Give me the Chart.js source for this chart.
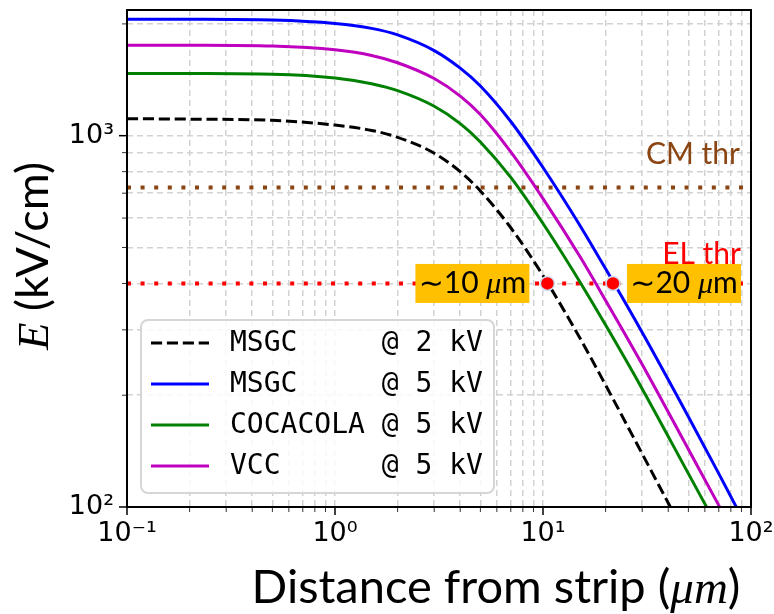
<!DOCTYPE html>
<html lang="en">
<head>
<meta charset="UTF-8" />
<title>E field vs distance from strip</title>
<script src="https://cdn.jsdelivr.net/npm/chart.js"></script>
<style>
  html, body { margin: 0; padding: 0; background: #fff; }
</style>
</head>
<body>
<canvas id="chart" width="774" height="614"></canvas>
<script>
// distance from strip (um)
const distance = [0.1, 0.2, 0.5, 1, 1.5, 2, 3, 4, 5, 7, 10, 15, 20, 30, 50, 70, 100];
// field E (kV/cm)
const msgc2kV     = [1111, 1108, 1100, 1068, 1033, 990, 897, 800, 710, 565, 420, 286, 213, 139, 81, 57, 39];
const msgc5kV     = [2059, 2058, 2048, 2005, 1945, 1868, 1695, 1520, 1361, 1092, 821, 575, 438, 295, 175, 123, 84];
const cocacola5kV = [1471, 1470, 1464, 1430, 1380, 1322, 1200, 1078, 962, 772, 580, 405, 309, 208, 123, 87, 60];
const vcc5kV      = [1753, 1752, 1743, 1703, 1645, 1572, 1425, 1278, 1140, 904, 677, 474, 360, 242, 143, 101, 69.5];
const seriesLabels = ['MSGC     @ 2 kV', 'MSGC     @ 5 kV', 'COCACOLA @ 5 kV', 'VCC      @ 5 kV'];

// thresholds and crossing markers
const cmThreshold = 725;
const elThreshold = 400;
const thresholdLabels = ['CM thr', 'EL thr'];
const markerX = [10.5, 21.7];
const markerLabels = ['∼10 $μ$m', '∼20 $μ$m'];

// axes
const xMajor = [0.1, 1, 10, 100];
const xTickLabels = ['10⁻¹', '10⁰', '10¹', '10²'];
const yMajor = [100, 1000];
const yTickLabels = ['10²', '10³'];
const xTitle = 'Distance from strip ($μm$)';
const yTitle = '$E$ (kV/cm)';

const sansFont = 'Lato, "Open Sans", sans-serif';
const mathFont = '"Liberation Serif", "DejaVu Serif", serif';

function minorTicks(majors) {
  const out = [];
  for (let i = 0; i < majors.length - 1; i++) {
    for (let k = 1; k < 10; k++) out.push(majors[i] * k);
  }
  out.push(majors[majors.length - 1]);
  return out;
}
const xTickValues = minorTicks(xMajor);
const yTickValues = minorTicks(yMajor).concat([2000]);

// text with $...$ parts in italic serif
function runs(text, size) {
  return text.split('$').map((t, i) => ({
    text: t,
    font: (i % 2 ? 'italic ' + size + 'px ' + mathFont
          : size + 'px ' + (t.indexOf('∼') === 0 ? '"DejaVu Sans"' : sansFont))
  })).filter(r => r.text.length);
}
function drawRuns(ctx, list, x, y, align) {
  let total = 0;
  list.forEach(r => {
    // tilde in DejaVu, rest in sans
    if (r.text[0] === '∼') {
      ctx.font = r.font;
      r.tw = ctx.measureText('∼').width;
      ctx.font = r.font.replace('"DejaVu Sans"', sansFont);
      r.w = r.tw + ctx.measureText(r.text.slice(1)).width;
    } else {
      ctx.font = r.font;
      r.w = ctx.measureText(r.text).width;
    }
    total += r.w;
  });
  let cx = align === 'center' ? x - total / 2 : (align === 'right' ? x - total : x);
  ctx.textAlign = 'left';
  list.forEach(r => {
    ctx.font = r.font;
    if (r.text[0] === '∼') {
      ctx.fillText('∼', cx, y);
      ctx.font = r.font.replace('"DejaVu Sans"', sansFont);
      ctx.fillText(r.text.slice(1), cx + r.tw, y);
    } else {
      ctx.fillText(r.text, cx, y);
    }
    cx += r.w;
  });
}

function pts(xs, ys) {
  return xs.map((x, i) => ({ x: x, y: ys[i] }));
}

const curveStyle = {
  borderWidth: 3, pointRadius: 0, fill: false, clip: 0,
  cubicInterpolationMode: 'monotone'
};

// axis frame, tick marks and axis titles
const framePlugin = {
  id: 'frame',
  afterDraw(chart) {
    const ctx = chart.ctx;
    const a = chart.chartArea;
    const xs = chart.scales.x, ys = chart.scales.y;
    ctx.save();
    xTickValues.forEach(v => {
      const major = xMajor.includes(v);
      const px = xs.getPixelForValue(v);
      ctx.lineWidth = major ? 1.5 : 1;
      ctx.strokeStyle = major ? '#000' : '#333';
      ctx.beginPath();
      ctx.moveTo(px, a.bottom);
      ctx.lineTo(px, a.bottom + (major ? 8 : 5));
      ctx.stroke();
    });
    yTickValues.forEach(v => {
      const major = yMajor.includes(v);
      const py = ys.getPixelForValue(v);
      ctx.lineWidth = major ? 1.5 : 1;
      ctx.strokeStyle = major ? '#000' : '#333';
      ctx.beginPath();
      ctx.moveTo(a.left, py);
      ctx.lineTo(a.left - (major ? 8 : 5), py);
      ctx.stroke();
    });
    ctx.strokeStyle = '#000';
    ctx.lineWidth = 2;
    ctx.strokeRect(a.left, a.top, a.right - a.left, a.bottom - a.top);

    ctx.fillStyle = '#000';
    ctx.textBaseline = 'alphabetic';
    drawRuns(ctx, runs(xTitle, 47), 496, 603, 'center');
    ctx.translate(48, 256);
    ctx.rotate(-Math.PI / 2);
    drawRuns(ctx, runs(yTitle, 45), 0, 0, 'center');
    ctx.restore();
  }
};

// orange boxes, threshold labels and the legend
const notesPlugin = {
  id: 'notes',
  afterDatasetsDraw(chart) {
    const ctx = chart.ctx;
    const a = chart.chartArea;
    const xs = chart.scales.x, ys = chart.scales.y;
    ctx.save();
    ctx.textBaseline = 'alphabetic';

    const yEl = ys.getPixelForValue(elThreshold);
    markerLabels.forEach((lab, i) => {
      const px = xs.getPixelForValue(markerX[i]);
      const w = 114, h = 39;
      const left = i === 0 ? px - 18 - w : px + 14;
      ctx.fillStyle = '#FFC000';
      ctx.fillRect(left, yEl - h / 2, w, h);
      ctx.fillStyle = '#000';
      drawRuns(ctx, runs(lab, 30), left + w / 2, yEl + 10, 'center');
    });

    ctx.font = '30px ' + sansFont;
    ctx.textAlign = 'right';
    ctx.fillStyle = '#8B4513';
    ctx.fillText(thresholdLabels[0], a.right - 11, ys.getPixelForValue(cmThreshold) - 24);
    ctx.fillStyle = '#ff0000';
    ctx.fillText(thresholdLabels[1], a.right - 10, yEl - 19);

    // legend
    const bx = 141, by = 320, bw = 353, bh = 173;
    ctx.beginPath();
    ctx.roundRect(bx, by, bw, bh, 7);
    ctx.fillStyle = 'rgba(255,255,255,0.85)';
    ctx.fill();
    ctx.strokeStyle = '#d6d6d6';
    ctx.lineWidth = 2;
    ctx.stroke();
    ctx.font = '28px "DejaVu Sans Mono"';
    ctx.textAlign = 'left';
    ctx.textBaseline = 'middle';
    for (let i = 0; i < 4; i++) {
      const ds = chart.data.datasets[i];
      const yy = by + 23 + i * 41;
      ctx.beginPath();
      ctx.setLineDash(ds.borderDash || []);
      ctx.strokeStyle = ds.borderColor;
      ctx.lineWidth = 3;
      ctx.moveTo(151, yy);
      ctx.lineTo(209, yy);
      ctx.stroke();
      ctx.setLineDash([]);
      ctx.fillStyle = '#000';
      ctx.fillText(ds.label, 230, yy + 1);
    }
    ctx.restore();
  }
};

const ctx = document.getElementById('chart').getContext('2d');
const chart = new Chart(ctx, {
  type: 'line',
  data: {
    datasets: [
      Object.assign({ label: seriesLabels[0], data: pts(distance, msgc2kV), borderColor: '#000000', borderDash: [11.1, 4.8], order: 4 }, curveStyle),
      Object.assign({ label: seriesLabels[1], data: pts(distance, msgc5kV), borderColor: '#0000ff', order: 3 }, curveStyle),
      Object.assign({ label: seriesLabels[2], data: pts(distance, cocacola5kV), borderColor: '#008000', order: 2 }, curveStyle),
      Object.assign({ label: seriesLabels[3], data: pts(distance, vcc5kV), borderColor: '#bf00bf', order: 1 }, curveStyle),
      { label: thresholdLabels[0], data: [{ x: 0.1, y: cmThreshold }, { x: 100, y: cmThreshold }],
        borderColor: '#8B4513', borderWidth: 4, borderDash: [4, 9.6], pointRadius: 0, clip: 0, order: 5 },
      { label: thresholdLabels[1], data: [{ x: 0.1, y: elThreshold }, { x: 100, y: elThreshold }],
        borderColor: '#ff0000', borderWidth: 4, borderDash: [4, 9.6], pointRadius: 0, clip: 0, order: 5 },
      { type: 'scatter', label: 'crossings', data: markerX.map(x => ({ x: x, y: elThreshold })),
        backgroundColor: '#ff0000', borderColor: '#cfe0f2', borderWidth: 1.5, pointRadius: 7, order: 0 }
    ]
  },
  options: {
    responsive: false,
    devicePixelRatio: 1,
    animation: false,
    layout: { padding: { left: 0, right: 23, top: 10, bottom: 0 } },
    plugins: { legend: { display: false }, tooltip: { enabled: false } },
    scales: {
      x: {
        type: 'logarithmic',
        min: 0.1, max: 100,
        afterBuildTicks: s => { s.ticks = xTickValues.map(v => ({ value: v, major: xMajor.includes(v) })); },
        afterFit: s => { s.height = 107; s.paddingLeft = 0; s.paddingRight = 0; },
        grid: { color: '#d2d2d2', lineWidth: 1.5, drawTicks: false },
        border: { display: false, dash: [6, 4] },
        ticks: {
          autoSkip: false, maxRotation: 0, padding: 11, color: '#000',
          font: { family: 'DejaVu Sans', size: 27 },
          callback: v => { const i = xMajor.indexOf(v); return i >= 0 ? xTickLabels[i] : ''; }
        }
      },
      y: {
        type: 'logarithmic',
        min: 100, max: 2180,
        afterBuildTicks: s => { s.ticks = yTickValues.map(v => ({ value: v, major: yMajor.includes(v) })); },
        afterFit: s => { s.width = 127; s.paddingTop = 0; s.paddingBottom = 0; },
        grid: { color: '#d2d2d2', lineWidth: 1.5, drawTicks: false },
        border: { display: false, dash: [6, 4] },
        ticks: {
          autoSkip: false, padding: 13, color: '#000',
          font: { family: 'DejaVu Sans', size: 27 },
          callback: v => { const i = yMajor.indexOf(v); return i >= 0 ? yTickLabels[i] : ''; }
        }
      }
    }
  },
  plugins: [framePlugin, notesPlugin]
});
</script>
</body>
</html>
